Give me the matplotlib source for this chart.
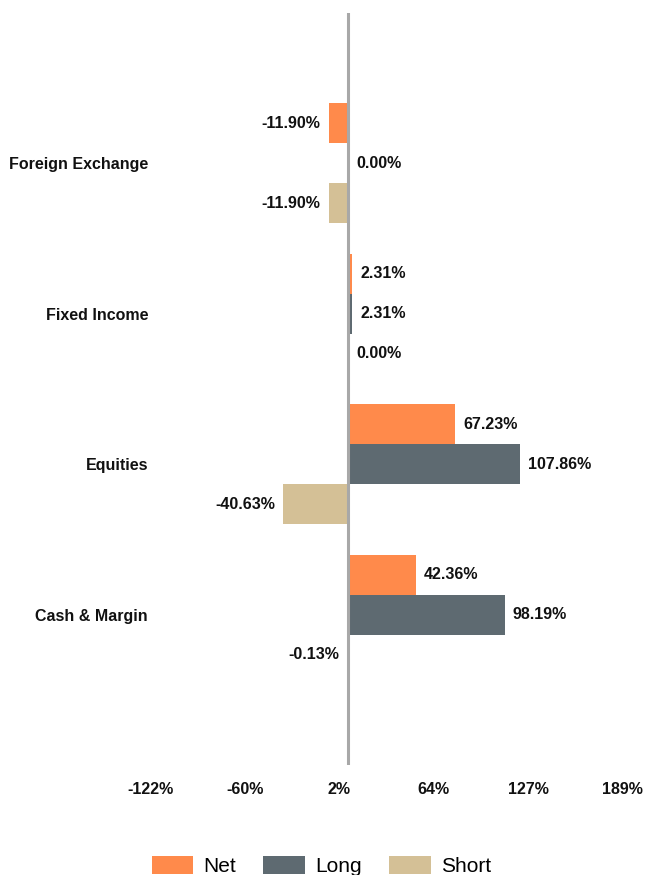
import matplotlib
matplotlib.use("Agg")
import matplotlib.pyplot as plt
import numpy as np
from matplotlib.patches import Patch

plt.rcParams["font.family"] = ["Liberation Sans", "DejaVu Sans"]

categories = ["Foreign Exchange", "Fixed Income", "Equities", "Cash & Margin"]
net = [-11.90, 2.31, 67.23, 42.36]
long_ = [0.00, 2.31, 107.86, 98.19]
short = [-11.90, 0.00, -40.63, -0.13]
tick_labels = ["-122%", "-60%", "2%", "64%", "127%", "189%"]

series = [
    ("Net", net, "#FF8A4B"),
    ("Long", long_, "#5E6A71"),
    ("Short", short, "#D4C096"),
]

W, H = 670, 875
fig = plt.figure(figsize=(W / 100, H / 100), dpi=100)
ax_left, ax_right = 103, 670
ax_top, ax_bot = 13, 765
ax = fig.add_axes([ax_left / W, 1 - ax_bot / H, (ax_right - ax_left) / W, (ax_bot - ax_top) / H])

# pixel scale: zero at x=348, 1.595 px per percent
zero_px, px_per = 348, 1.595
xmin = -(zero_px - ax_left) / px_per
xmax = (ax_right - zero_px) / px_per
ax.set_xlim(xmin, xmax)
ax.set_ylim(5, 0)

ypos = np.arange(1, len(categories) + 1)
bh = 40 / 150.4
offsets = [-bh, 0, bh]

for (name, vals, color), off in zip(series, offsets):
    ax.barh(ypos + off, vals, height=bh, color=color, zorder=2)
    for y, v in zip(ypos + off, vals):
        if v < 0:
            ax.annotate(f"{v:.2f}%", (v, y), xytext=(-6, 0), textcoords="offset points",
                        ha="right", va="center", fontsize=11.5, fontweight="bold", color="#111111")
        else:
            ax.annotate(f"{v:.2f}%", (v, y), xytext=(6, 0), textcoords="offset points",
                        ha="left", va="center", fontsize=11.5, fontweight="bold", color="#111111")

ax.axvline(0, color="#A8A8A8", linewidth=2.2, zorder=3)

# category labels sit inside the axes area on the left
ax.set_yticks(ypos)
ax.set_yticklabels(categories, fontsize=11.5, fontweight="bold", color="#111111")
ax.tick_params(axis="y", length=0, pad=-(148 - ax_left) * 0.72)

# tick labels are evenly spread across the axis width
ticks = xmin + (np.arange(len(tick_labels)) + 0.5) * (xmax - xmin) / len(tick_labels)
ax.set_xticks(ticks)
ax.set_xticklabels(tick_labels, fontsize=11.5, fontweight="bold", color="#111111")
ax.tick_params(axis="x", length=0, pad=12)

for s in ax.spines.values():
    s.set_visible(False)

handles = [Patch(facecolor=c, edgecolor="none", label=n) for n, _, c in series]
fig.legend(handles=handles, loc="center", bbox_to_anchor=(321.5 / W, 1 - 866 / H),
           ncol=3, frameon=False, fontsize=15, handlelength=2.0, handleheight=1.0,
           handletextpad=0.5, columnspacing=1.3)

fig.savefig("out.png", dpi=100)
